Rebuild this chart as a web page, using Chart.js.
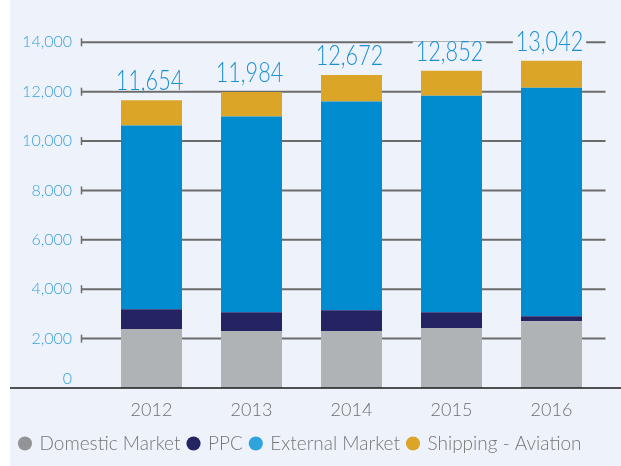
<!DOCTYPE html>
<html>
<head>
<meta charset="utf-8">
<script src="https://cdn.jsdelivr.net/npm/chart.js@4"></script>
<style>
html, body { margin: 0; padding: 0; background: #ffffff; }
#wrap { width: 621px; height: 466px; }
</style>
</head>
<body>
<div id="wrap"><canvas id="energyChart" width="621" height="466"></canvas></div>
<script>
/* ---------- data ---------- */

const years = ["2012", "2013", "2014", "2015", "2016"];

const domesticMarket = [2386, 2305, 2305, 2426, 2707];
const ppc = [804, 765, 845, 644, 202];
const externalMarket = [7443, 7925, 8448, 8770, 9253];
const shippingAviation = [1021, 989, 1074, 1012, 1086];

// totals printed above the bars
const totalLabels = [11654, 11984, 12672, 12852, 13042];

const yTicks = [0, 2000, 4000, 6000, 8000, 10000, 12000, 14000];

/* ---------- colours ---------- */

const panelColor = "#eef3fb";
const barColors = ["#b0b3b6", "#252463", "#008ccf", "#dba628"];
const legendColors = ["#939497", "#252463", "#2ea3dc", "#dca527"];

/* ---------- plugins ---------- */

const panelBg = {
    id: "panelBg",
    beforeDraw(chart) {
        const ctx = chart.ctx;
        ctx.save();
        ctx.fillStyle = panelColor;
        ctx.fillRect(10, 0, chart.width - 10, chart.height);
        ctx.restore();
    }
};

// horizontal rules with the small cap at the left end
const tickRules = {
    id: "tickRules",
    beforeDatasetsDraw(chart) {
        const y = chart.scales.y;
        const ctx = chart.ctx;
        const left = chart.chartArea.left - 20;
        const right = chart.chartArea.right + 4;
        ctx.save();
        ctx.strokeStyle = "#6b6b6b";
        y.ticks.forEach(t => {
            if (t.value === 0) return;
            const py = y.getPixelForValue(t.value);
            ctx.lineWidth = 2;
            ctx.beginPath();
            ctx.moveTo(left, py);
            ctx.lineTo(right, py);
            ctx.stroke();
            ctx.lineWidth = 1.5;
            ctx.beginPath();
            ctx.moveTo(left, py - 4);
            ctx.lineTo(left, py + 4);
            ctx.stroke();
        });
        ctx.restore();
    },
    afterDatasetsDraw(chart) {
        const y = chart.scales.y;
        const ctx = chart.ctx;
        const y0 = y.getPixelForValue(0);
        ctx.save();
        // base line
        ctx.strokeStyle = "#1a1a1a";
        ctx.lineWidth = 1.5;
        ctx.beginPath();
        ctx.moveTo(10, y0);
        ctx.lineTo(chart.width, y0);
        ctx.stroke();
        // the zero label sits a little above the base line
        ctx.fillStyle = "#3aa0dc";
        ctx.font = "300 16px Lato";
        ctx.textAlign = "right";
        ctx.textBaseline = "middle";
        ctx.fillText("0", chart.chartArea.left - 29.5, y0 - 9);
        ctx.restore();
    }
};

// total value over each stack (narrowed to look like the condensed face)
const totalsPlugin = {
    id: "totalsPlugin",
    afterDatasetsDraw(chart) {
        const ctx = chart.ctx;
        const top = chart.getDatasetMeta(chart.data.datasets.length - 1);
        const squeeze = 0.8;
        ctx.save();
        ctx.font = "300 27px Lato";
        ctx.textAlign = "center";
        ctx.textBaseline = "alphabetic";
        top.data.forEach((bar, i) => {
            const text = totalLabels[i].toLocaleString("en-US");
            const w = ctx.measureText(text).width * squeeze;
            const cx = bar.x - 2;
            const by = bar.y - 10;
            ctx.fillStyle = panelColor;
            ctx.fillRect(cx - w / 2 - 3, by - 19, w + 6, 19);
            ctx.save();
            ctx.translate(cx, by);
            ctx.scale(squeeze, 1);
            ctx.fillStyle = "#1b8fd2";
            ctx.fillText(text, 0, 0);
            ctx.restore();
        });
        ctx.restore();
    }
};

/* ---------- chart ---------- */

const seriesNames = ["Domestic Market", "PPC", "External Market", "Shipping - Aviation"];
const seriesData = [domesticMarket, ppc, externalMarket, shippingAviation];

new Chart(document.getElementById("energyChart"), {
    type: "bar",
    data: {
        labels: years,
        datasets: seriesNames.map((name, i) => ({
            label: name,
            data: seriesData[i],
            backgroundColor: barColors[i],
            borderWidth: 0,
            barPercentage: 0.61,
            categoryPercentage: 1
        }))
    },
    options: {
        responsive: false,
        animation: false,
        devicePixelRatio: 1,
        layout: {
            padding: { top: 42.3, right: 19.5, bottom: 3, left: 0 }
        },
        scales: {
            x: {
                stacked: true,
                grid: { display: false, drawTicks: false },
                border: { display: false },
                ticks: {
                    color: "#6e6e6e",
                    font: { family: "Lato", size: 18, weight: 300 },
                    padding: 11.5
                },
                afterFit(scale) { scale.height = 38; }
            },
            y: {
                stacked: true,
                min: yTicks[0],
                max: yTicks[yTicks.length - 1],
                grid: { display: false, drawTicks: false },
                border: { display: false },
                afterBuildTicks(scale) {
                    scale.ticks = yTicks.map(v => ({ value: v }));
                },
                ticks: {
                    color: "#3aa0dc",
                    font: { family: "Lato", size: 16, weight: 300 },
                    padding: 29.5,
                    callback: v => v === 0 ? "" : v.toLocaleString("en-US")
                },
                afterFit(scale) { scale.width = 101.5; }
            }
        },
        plugins: {
            tooltip: { enabled: false },
            legend: {
                position: "bottom",
                labels: {
                    usePointStyle: true,
                    pointStyle: "circle",
                    boxWidth: 10,
                    boxHeight: 10,
                    padding: 8,
                    color: "#767676",
                    font: { family: "Lato", size: 19, weight: 300 },
                    generateLabels(chart) {
                        const items = Chart.defaults.plugins.legend.labels.generateLabels(chart);
                        items.forEach((it, i) => {
                            it.fillStyle = legendColors[i];
                            it.strokeStyle = legendColors[i];
                            it.lineWidth = 0;
                        });
                        return items;
                    }
                }
            }
        }
    },
    plugins: [panelBg, tickRules, totalsPlugin]
});
</script>
</body>
</html>
